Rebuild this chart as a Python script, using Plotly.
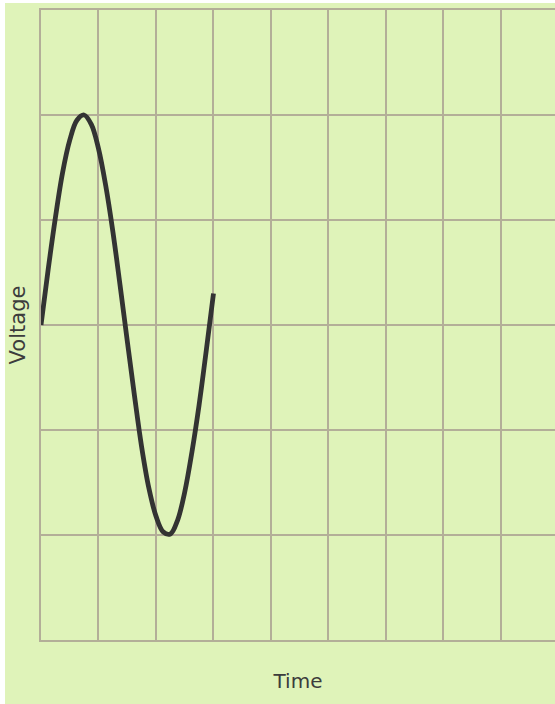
import plotly.graph_objects as go

# Readings from the picture (grid units)
time_vals = [0.0, 0.125, 0.25, 0.375, 0.5, 0.625, 0.75, 0.875, 1.0, 1.125, 1.25,
             1.375, 1.5, 1.625, 1.75, 1.875, 2.0, 2.125, 2.25, 2.375, 2.5,
             2.625, 2.75, 2.875, 3.0]
voltage_vals = [0.0, 0.53, 1.02, 1.45, 1.76, 1.95, 2.0, 1.91, 1.68, 1.33, 0.89,
                0.38, -0.15, -0.67, -1.16, -1.55, -1.82, -1.97, -1.99, -1.86, -1.59,
                -1.21, -0.76, -0.24, 0.30]

x_title = "Time"
y_title = "Voltage"

BG = "#dff3b9"
GRID = "#b3ae98"
INK = "#333333"

fig = go.Figure()
fig.add_trace(go.Scatter(
    x=time_vals, y=voltage_vals, mode="lines",
    line=dict(color=INK, width=4.8, shape="spline", smoothing=1.0),
    hoverinfo="skip", showlegend=False,
))

fig.update_layout(
    width=555, height=704,
    margin=dict(l=41, r=0, t=10, b=64),
    paper_bgcolor="white",
    plot_bgcolor=BG,
    font=dict(family="DejaVu Sans", color="#3c3c3c"),
    shapes=[dict(type="rect", xref="paper", yref="paper",
                 x0=-0.0700, x1=1.05, y0=-0.11, y1=1.0111,
                 fillcolor=BG, line=dict(width=0), layer="below")],
)
fig.update_xaxes(
    range=[0, 8.94], dtick=1, tick0=0,
    showgrid=True, gridcolor=GRID, gridwidth=1.5,
    showline=True, linecolor=GRID, linewidth=1.5, mirror=True,
    zeroline=False, showticklabels=False, ticks="",
    title=dict(text=x_title, font=dict(size=20, color="#3c3c3c"), standoff=33),
    fixedrange=True,
)
fig.update_yaxes(
    range=[-3, 3], dtick=1, tick0=0,
    showgrid=True, gridcolor=GRID, gridwidth=1.5,
    showline=True, linecolor=GRID, linewidth=1.5, mirror=False,
    zeroline=False, showticklabels=False, ticks="",
    title=dict(text=y_title, font=dict(size=21, color="#3c3c3c"), standoff=8),
    fixedrange=True,
)

fig.write_html(
    "out.html",
    config={"displayModeBar": False},
    post_script="document.body.style.margin='0';document.body.style.overflow='hidden';",
)
